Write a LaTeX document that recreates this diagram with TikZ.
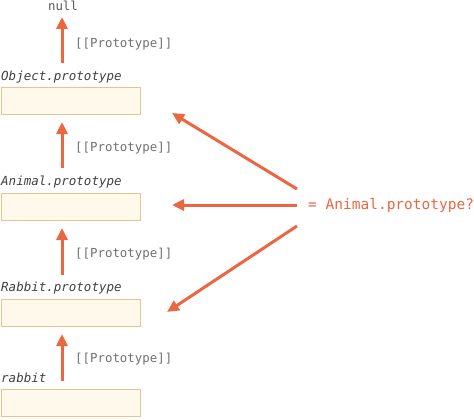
\documentclass[tikz,border=0pt]{standalone}
\usepackage{fontspec}
\setmonofont{DejaVu Sans Mono}
\usetikzlibrary{arrows.meta}
\definecolor{arrowred}{HTML}{EC6642}
\definecolor{boxfill}{HTML}{FFF9EB}
\definecolor{boxline}{HTML}{E9C48F}
\definecolor{labelgray}{HTML}{707070}
\tikzset{
	objbox/.style={draw=boxline, fill=boxfill, line width=1.6pt, minimum width=139pt, minimum height=27pt, inner sep=0pt},
	objname/.style={font=\ttfamily\itshape\fontsize{12.5}{14}\selectfont, text=black!75, anchor=west, inner sep=0pt},
	protolink/.style={arrowred, line width=3pt, -{Triangle[length=12pt,width=11pt]}},
	protolabel/.style={font=\ttfamily\fontsize{12.4}{14}\selectfont, text=labelgray, anchor=west, inner sep=0pt}
}

\begin{document}
\begin{tikzpicture}[x=1pt,y=-1pt]
		\useasboundingbox (0,0) rectangle (474,420);
		% null at the top
		\node [font=\ttfamily\fontsize{12.4}{14}\selectfont, text=black!65, inner sep=0pt] (null) at (63,6) {null};
		% the chain of objects
		\node [objbox] (objectbox) at (71,101) {};
		\node [objbox] (animalbox) at (71,207) {};
		\node [objbox] (rabbitprotobox) at (71,313) {};
		\node [objbox] (rabbitbox) at (71,403) {};
		\node [objname] (objectname) at (1,77) {Object.prototype};
		\node [objname] (animalname) at (1,182) {Animal.prototype};
		\node [objname] (rabbitprotoname) at (1,288) {Rabbit.prototype};
		\node [objname] (rabbitname) at (1,378) {rabbit};
		% [[Prototype]] links
		\coordinate (t1) at (62,63); \coordinate (h1) at (62,17);
		\coordinate (t2) at (62,168); \coordinate (h2) at (62,122);
		\coordinate (t3) at (62,275); \coordinate (h3) at (62,228);
		\coordinate (t4) at (62,381); \coordinate (h4) at (62,334);
		\draw [protolink] (t1) -- (h1);
		\draw [protolink] (t2) -- (h2);
		\draw [protolink] (t3) -- (h3);
		\draw [protolink] (t4) -- (h4);
		\node [protolabel] (p1) at (75,44) {[[Prototype]]};
		\node [protolabel] (p2) at (75,148) {[[Prototype]]};
		\node [protolabel] (p3) at (75,254) {[[Prototype]]};
		\node [protolabel] (p4) at (75,359) {[[Prototype]]};
		% the check
		\node [font=\ttfamily\fontsize{14.5}{16}\selectfont, text=arrowred, anchor=west, inner sep=0pt] (check) at (308,205) {= Animal.prototype?};
		\coordinate (c1) at (297,189); \coordinate (e1) at (172,113);
		\coordinate (c2) at (297,205); \coordinate (e2) at (172,205);
		\coordinate (c3) at (297,226); \coordinate (e3) at (167,312);
		\draw [protolink] (c1) -- (e1);
		\draw [protolink] (c2) -- (e2);
		\draw [protolink] (c3) -- (e3);
	\end{tikzpicture}
\end{document}
